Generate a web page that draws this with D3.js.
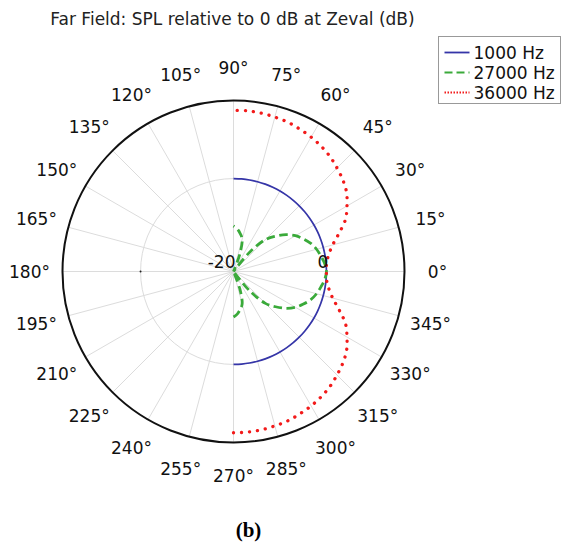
<!DOCTYPE html>
<html>
<head>
<meta charset="utf-8">
<script src="https://cdn.jsdelivr.net/npm/d3@7"></script>
<style>
  html, body { margin: 0; padding: 0; background: #fff; }
  svg { display: block; }
</style>
</head>
<body>
<svg id="chart" width="567" height="554"></svg>
<script>
// ---- data ----
const title = "Far Field: SPL relative to 0 dB at Zeval (dB)";
const caption = "(b)";
const seriesNames = ["1000 Hz", "27000 Hz", "36000 Hz"];
const anglesDeg = [-90,-85,-80,-75,-70,-65,-60,-55,-50,-45,-40,-35,-30,-25,-20,-15,-10,-5,0,5,10,15,20,25,30,35,40,45,50,55,60,65,70,75,80,85,90];
const spl1000 = [0,0,0,0,0,0,0,0,0,0,0,0,0,0,0,0,0,0,0,0,0,0,0,0,0,0,0,0,0,0,0,0,0,0,0,0,0];
const spl27000 = [-10.2,-10.8,-11.7,-12.8,-16.0,-22,-26,-21,-14.5,-10.3,-8.2,-6.2,-4.6,-3.4,-2.3,-1.5,-0.9,-0.3,0,-0.3,-0.9,-1.5,-2.3,-3.4,-4.6,-6.2,-8.2,-10.3,-14.5,-21,-26,-22,-16.0,-12.8,-11.7,-10.8,-10.2];
const spl36000 = [14.7,14.7,14.6,14.4,14.2,13.8,13.4,12.9,12.3,11.5,10.7,9.7,8.2,6.6,4.2,2.1,0.8,0.1,0,0.1,0.8,2.1,4.2,6.6,8.2,9.7,10.7,11.5,12.3,12.9,13.4,13.8,14.2,14.4,14.6,14.7,14.7];
const angleTickLabels = ["0°","15°","30°","45°","60°","75°","90°","105°","120°","135°","150°","165°","180°","195°","210°","225°","240°","255°","270°","285°","300°","315°","330°","345°"];
const angleTickValues = [0,15,30,45,60,75,90,105,120,135,150,165,180,195,210,225,240,255,270,285,300,315,330,345];
const radialTickValues = [-20, 0];
const radialTickLabels = ["-20", "0"];
const rDomain = [-20, 16.8];

// ---- layout ----
const cx = 233.5, cy = 271.5, R = 171;
const svg = d3.select("#chart");
const font = "DejaVu Sans, Liberation Sans, sans-serif";

const r = d3.scaleLinear().domain(rDomain).range([0, R]).clamp(true);
const toRad = d => (90 - d) * Math.PI / 180; // d3 radial angle (0 at top, clockwise)

const g = svg.append("g").attr("transform", `translate(${cx},${cy})`);

// spokes
g.selectAll("line.spoke").data(angleTickValues).join("line")
  .attr("class", "spoke")
  .attr("x1", 0).attr("y1", 0)
  .attr("x2", d => R * Math.cos(d * Math.PI / 180))
  .attr("y2", d => -R * Math.sin(d * Math.PI / 180))
  .attr("stroke", "#dcdcdc").attr("stroke-width", 1);

// grid circle at 0 dB
g.selectAll("circle.grid").data(radialTickValues.filter(v => v > rDomain[0])).join("circle")
  .attr("class", "grid")
  .attr("r", d => r(d)).attr("fill", "none")
  .attr("stroke", "#dcdcdc").attr("stroke-width", 1);

// outer circle
g.append("circle").attr("r", R).attr("fill", "none")
  .attr("stroke", "#111").attr("stroke-width", 2);

// small tick dot at 180°, 0 dB
g.append("circle").attr("cx", -r(0)).attr("cy", 0).attr("r", 1).attr("fill", "#222");

// curves
const colors = ["#3535a8", "#3aaa3a", "#f21a1a"];
const seriesData = [spl1000, spl27000, spl36000];
const line = d3.lineRadial()
  .angle((d, i) => toRad(anglesDeg[i]))
  .radius(d => r(d))
  .curve(d3.curveCatmullRom.alpha(0.5));

const styles = [
  { w: 1.7, dash: null, cap: "butt" },
  { w: 2.8, dash: "8.5 4.5", cap: "butt" },
  { w: 3.3, dash: "0.1 7.9", cap: "round" }
];

seriesData.forEach((vals, k) => {
  g.append("path")
    .attr("d", line(vals))
    .attr("fill", "none")
    .attr("stroke", colors[k])
    .attr("stroke-width", styles[k].w)
    .attr("stroke-dasharray", styles[k].dash)
    .attr("stroke-linecap", styles[k].cap);
});

// radial labels
g.selectAll("text.rlab").data(radialTickValues).join("text")
  .attr("class", "rlab")
  .attr("x", d => r(d) + 2)
  .attr("y", -4)
  .attr("text-anchor", "end")
  .attr("font-family", font).attr("font-size", 17).attr("fill", "#111")
  .text((d, i) => radialTickLabels[i]);

// angle labels
const LR = 204;
g.selectAll("text.alab").data(angleTickValues).join("text")
  .attr("class", "alab")
  .attr("x", d => LR * Math.cos(d * Math.PI / 180))
  .attr("y", d => -LR * Math.sin(d * Math.PI / 180))
  .attr("dy", "0.36em")
  .attr("text-anchor", "middle")
  .attr("font-family", font).attr("font-size", 17).attr("fill", "#111")
  .text((d, i) => angleTickLabels[i]);

// title
svg.append("text")
  .attr("x", cx - 1).attr("y", 25)
  .attr("text-anchor", "middle")
  .attr("font-family", font).attr("font-size", 17).attr("fill", "#222")
  .text(title);

// legend
const lg = svg.append("g").attr("transform", "translate(438.5,36.5)");
lg.append("rect").attr("width", 122).attr("height", 67)
  .attr("fill", "#fff").attr("stroke", "#999").attr("stroke-width", 1);
const legendDash = [null, "8 4", "1.5 1.5"];
seriesNames.forEach((name, k) => {
  const y = 16 + k * 20;
  lg.append("line").attr("x1", 6).attr("x2", 31).attr("y1", y).attr("y2", y)
    .attr("stroke", colors[k])
    .attr("stroke-width", 1.8)
    .attr("stroke-dasharray", legendDash[k]);
  lg.append("text").attr("x", 35).attr("y", y).attr("dy", "0.36em")
    .attr("font-family", font).attr("font-size", 17).attr("fill", "#111")
    .text(name);
});

// caption
svg.append("text")
  .attr("x", 248.5).attr("y", 537)
  .attr("text-anchor", "middle")
  .attr("font-family", "Liberation Serif, Times New Roman, serif")
  .attr("font-weight", "bold").attr("font-size", 21).attr("fill", "#000")
  .text(caption);
</script>
</body>
</html>
